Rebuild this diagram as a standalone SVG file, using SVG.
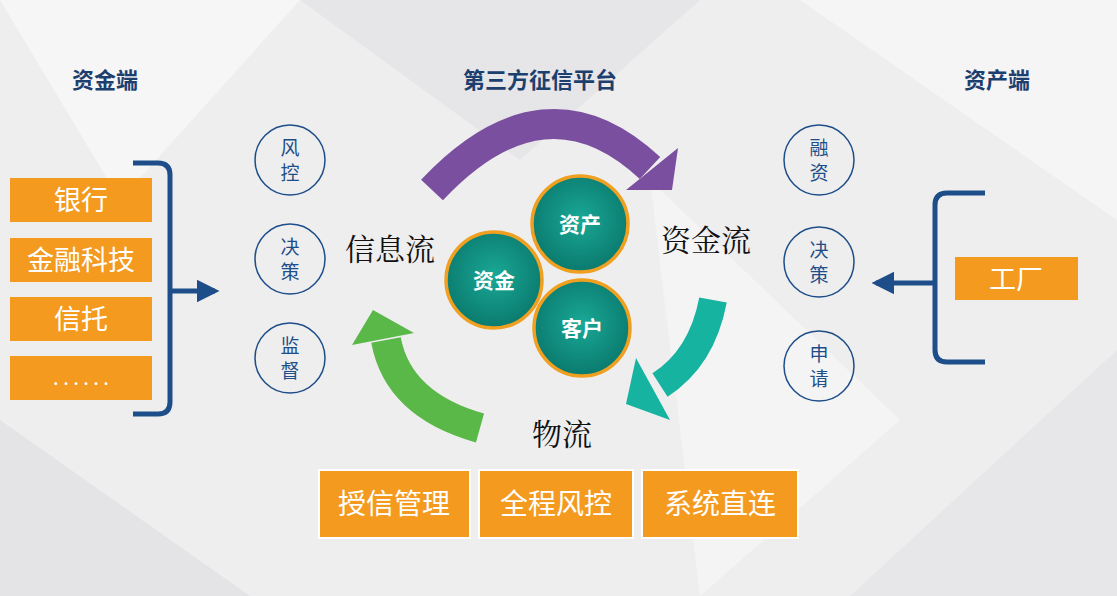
<svg xmlns="http://www.w3.org/2000/svg" width="1117" height="596" viewBox="0 0 1117 596">
<defs>
<style>
.h{font-family:"Noto Sans CJK SC",sans-serif;font-weight:bold;font-size:22px;fill:#1d3f6e;text-anchor:middle}
.ob{fill:#f39a1f}
.ot{font-family:"Noto Sans CJK SC",sans-serif;font-size:27px;fill:#fff;text-anchor:middle}
.bt{font-family:"Noto Sans CJK SC",sans-serif;font-size:28px;fill:#fff;text-anchor:middle}
.sc{fill:none;stroke:#1d4e89;stroke-width:1.5}
.st{font-family:"Noto Sans CJK SC",sans-serif;font-size:19px;fill:#1d4e89;text-anchor:middle}
.big{fill:url(#tg);stroke:#f0a020;stroke-width:3.5}
.ct{font-family:"Noto Sans CJK SC",sans-serif;font-size:21px;font-weight:bold;fill:#fff;text-anchor:middle}
.fl{font-family:"Noto Serif CJK SC","Liberation Serif","Noto Sans CJK SC",serif;font-size:30px;fill:#111;text-anchor:middle}
.br{fill:none;stroke:#1d4e89;stroke-width:5}
</style>
<radialGradient id="tg" cx="50%" cy="45%" r="55%"><stop offset="0" stop-color="#1aa896"/><stop offset="1" stop-color="#0a7a6e"/></radialGradient>
<marker id="ah" viewBox="0 0 10 10" refX="8" refY="5" markerWidth="4.5" markerHeight="4.5" orient="auto"><path d="M0 0L10 5L0 10z" fill="#1d4e89"/></marker>
</defs>
<rect width="1117" height="596" fill="#eeeeef"/>
<polygon points="0,0 300,0 120,200" fill="#f6f6f7"/>
<polygon points="300,0 700,0 520,160" fill="#e6e6e8"/>
<polygon points="800,0 1117,0 1117,220" fill="#f5f5f6"/>
<polygon points="0,420 250,596 0,596" fill="#e4e4e6"/>
<polygon points="850,596 1117,350 1117,596" fill="#e7e7e9"/>
<polygon points="650,180 900,420 700,596" fill="#f4f4f5"/>
<text class="h" x="105" y="88">资金端</text>
<text class="h" x="540" y="88">第三方征信平台</text>
<text class="h" x="997" y="88">资产端</text>
<g id="connectors">
<path class="br" d="M133 163H158Q170 163 170 175V402Q170 414 158 414H133"/>
<path d="M170 291H215" stroke="#1d4e89" stroke-width="5" marker-end="url(#ah)"/>
<path class="br" d="M985 193H947Q935 193 935 205V350Q935 362 947 362H985"/>
<path d="M935 283H876" stroke="#1d4e89" stroke-width="5" marker-end="url(#ah)"/>
<path d="M432 190Q545 70 650 168" fill="none" stroke="#7b4fa0" stroke-width="30"/>
<polygon points="678,148 626,190 672,190" fill="#7b4fa0"/>
<path d="M713 300Q702 358 660 385" fill="none" stroke="#15b3a0" stroke-width="28"/>
<polygon points="636,358 670,420 626,404" fill="#15b3a0"/>
<path d="M480 428Q398 405 386 340" fill="none" stroke="#5ab848" stroke-width="30"/>
<polygon points="352,345 373,310 414,333" fill="#5ab848"/>
</g>
<g id="left">
<rect class="ob" x="10" y="178" width="142" height="44"/><text class="ot" x="81" y="210">银行</text>
<rect class="ob" x="10" y="238" width="142" height="44"/><text class="ot" x="81" y="270">金融科技</text>
<rect class="ob" x="10" y="297" width="142" height="44"/><text class="ot" x="81" y="329">信托</text>
<rect class="ob" x="10" y="356" width="142" height="44"/><text class="ot" x="81" y="385" style="font-size:20px">. . . . . .</text>
</g>
<g id="lc">
<circle class="sc" cx="290" cy="160" r="35"/><text class="st" x="290" y="155">风</text><text class="st" x="290" y="180">控</text>
<circle class="sc" cx="290" cy="259" r="35"/><text class="st" x="290" y="254">决</text><text class="st" x="290" y="279">策</text>
<circle class="sc" cx="290" cy="358" r="35"/><text class="st" x="290" y="353">监</text><text class="st" x="290" y="378">督</text>
</g>
<g id="rc">
<circle class="sc" cx="819" cy="160" r="35"/><text class="st" x="819" y="155">融</text><text class="st" x="819" y="180">资</text>
<circle class="sc" cx="819" cy="262" r="35"/><text class="st" x="819" y="257">决</text><text class="st" x="819" y="282">策</text>
<circle class="sc" cx="819" cy="366" r="35"/><text class="st" x="819" y="361">申</text><text class="st" x="819" y="386">请</text>
</g>
<g id="factory"><rect class="ob" x="955" y="257" width="123" height="43"/><text class="ot" x="1016" y="289">工厂</text></g>
<g id="core">
<circle class="big" cx="580" cy="224" r="48"/><text class="ct" x="580" y="232">资产</text>
<circle class="big" cx="494" cy="280" r="48"/><text class="ct" x="494" y="288">资金</text>
<circle class="big" cx="582" cy="328" r="48"/><text class="ct" x="582" y="336">客户</text>
</g>
<text class="fl" x="390" y="260">信息流</text>
<text class="fl" x="706" y="251">资金流</text>
<text class="fl" x="562" y="445">物流</text>
<g id="bottom">
<rect class="ob" x="319" y="470" width="151" height="68" stroke="#fff" stroke-width="2"/><text class="bt" x="394" y="514">授信管理</text>
<rect class="ob" x="479" y="470" width="154" height="68" stroke="#fff" stroke-width="2"/><text class="bt" x="556" y="514">全程风控</text>
<rect class="ob" x="642" y="470" width="156" height="68" stroke="#fff" stroke-width="2"/><text class="bt" x="720" y="514">系统直连</text>
</g>
</svg>
